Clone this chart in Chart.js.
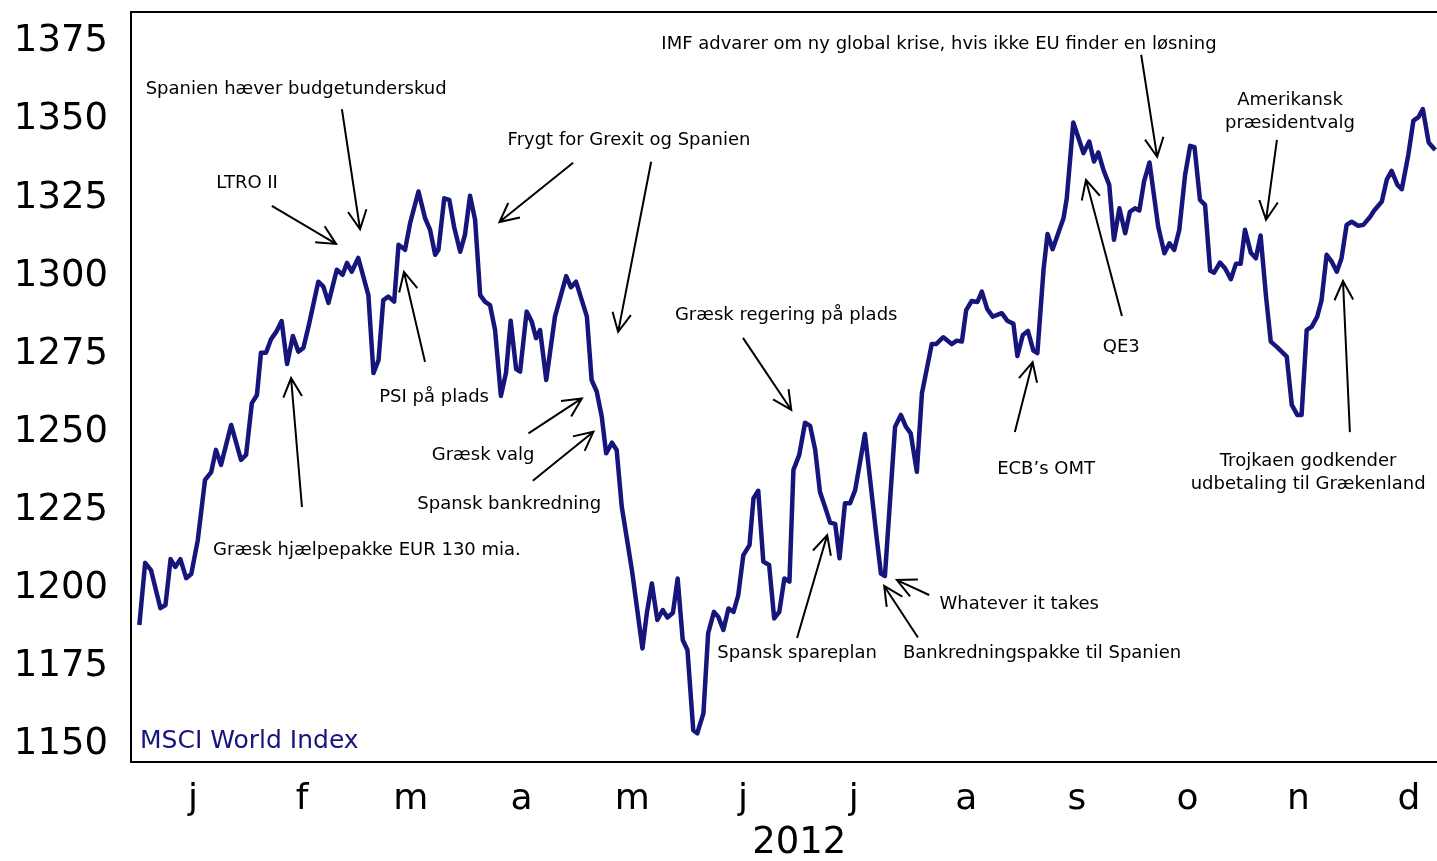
<!DOCTYPE html>
<html>
<head>
<meta charset="utf-8">
<title>MSCI World Index 2012</title>
<script src="https://cdn.jsdelivr.net/npm/chart.js@4.4.1/dist/chart.umd.min.js"></script>
<style>
  html, body { margin: 0; padding: 0; background: #ffffff; }
  #wrap { width: 1437px; height: 861px; }
</style>
</head>
<body>
<div id="wrap"><canvas id="msciChart"></canvas></div>
<script>
// day of year 2012 (0 = 1 Jan) for each reading
const tradingDays = [
  0.7, 2.3, 3.9, 6.5, 7.9, 9.3, 10.6, 12.0, 13.6, 15.0,
  16.8, 18.8, 20.5, 21.8, 23.2, 26.0, 28.7, 30.1, 31.7, 33.1,
  34.2, 35.6, 37.0, 38.4, 39.9, 41.4, 43.0, 44.5, 45.9, 47.3,
  50.0, 51.4, 52.8, 55.1, 56.7, 57.9, 59.2, 61.0, 63.8, 65.2,
  66.6, 67.9, 69.3, 70.9, 72.1, 73.9, 75.3, 77.6, 79.4, 80.8,
  82.2, 83.1, 84.7, 86.1, 87.4, 89.1, 90.4, 91.8, 93.2, 94.6,
  95.9, 97.3, 98.7, 100.3, 101.7, 103.0, 104.5, 105.6, 107.4, 108.8,
  110.0, 111.1, 112.8, 115.2, 118.3, 119.6, 121.0, 124.0, 125.3, 126.7,
  128.1, 129.3, 130.9, 132.2, 133.6, 136.4, 139.3, 140.5, 141.9, 143.4,
  144.9, 146.2, 147.7, 149.0, 150.4, 151.7, 153.3, 154.4, 156.1, 157.4,
  159.0, 160.2, 161.6, 163.0, 164.4, 165.7, 167.1, 168.8, 169.9, 171.2,
  172.6, 174.2, 175.6, 177.0, 178.4, 179.8, 180.9, 182.5, 184.1, 185.5,
  186.9, 188.2, 189.9, 191.0, 192.4, 193.6, 195.1, 196.5, 197.9, 200.6,
  203.9, 205.0, 206.1, 208.9, 210.5, 211.9, 213.2, 214.9, 216.3, 219.0,
  220.2, 222.2, 224.5, 225.9, 227.3, 228.5, 230.0, 231.6, 232.8, 234.3,
  235.8, 238.3, 239.8, 241.5, 242.6, 244.1, 245.5, 247.0, 248.1, 249.8,
  250.9, 252.3, 255.3, 256.2, 258.0, 260.8, 262.4, 263.7, 264.9, 266.3,
  267.9, 269.2, 270.7, 272.3, 273.6, 275.0, 276.2, 277.5, 279.0, 281.4,
  283.1, 284.5, 285.8, 287.2, 288.8, 290.2, 291.4, 292.9, 294.3, 295.7,
  296.8, 298.4, 299.8, 301.4, 302.8, 304.1, 305.3, 306.9, 308.3, 309.6,
  311.1, 312.4, 314.0, 316.8, 318.2, 319.7, 320.9, 322.3, 323.7, 325.2,
  326.4, 327.8, 329.2, 330.6, 331.9, 333.3, 334.7, 336.5, 337.9, 339.8,
  340.9, 343.0, 344.4, 345.7, 347.3, 348.5, 350.3, 351.7, 353.1, 354.3,
  355.9, 357.7
];

const indexValues = [
  1187.2, 1207.1, 1204.8, 1192.6, 1193.6, 1208.3, 1205.8, 1208.3, 1202.2, 1203.5,
  1214.4, 1233.7, 1236.2, 1243.3, 1238.5, 1251.3, 1240.1, 1241.7, 1258.3, 1260.9,
  1274.4, 1274.4, 1278.8, 1281.1, 1284.6, 1270.8, 1279.8, 1274.8, 1276.0, 1282.8,
  1297.2, 1295.6, 1290.4, 1301.0, 1299.4, 1303.2, 1300.4, 1304.8, 1292.9, 1267.9,
  1272.1, 1291.3, 1292.4, 1290.8, 1309.0, 1307.4, 1316.0, 1326.1, 1317.6, 1313.8,
  1305.8, 1307.4, 1323.9, 1323.4, 1314.8, 1306.8, 1312.2, 1324.7, 1317.0, 1292.9,
  1290.8, 1289.7, 1281.7, 1260.6, 1267.9, 1284.7, 1269.2, 1268.4, 1287.6, 1284.4,
  1279.1, 1281.7, 1265.7, 1286.0, 1299.0, 1295.4, 1297.2, 1286.0, 1265.7, 1262.0,
  1253.9, 1242.2, 1245.6, 1243.3, 1225.1, 1204.8, 1179.7, 1190.9, 1200.5, 1188.8,
  1192.0, 1189.6, 1191.1, 1202.1, 1182.4, 1179.2, 1153.5, 1152.5, 1158.9, 1184.5,
  1191.4, 1189.8, 1185.6, 1192.5, 1191.4, 1196.8, 1209.6, 1212.8, 1227.8, 1230.2,
  1207.5, 1206.4, 1189.3, 1191.4, 1202.1, 1201.1, 1236.9, 1241.7, 1252.0, 1251.0,
  1243.3, 1229.9, 1224.0, 1220.0, 1219.6, 1208.6, 1226.2, 1226.2, 1230.4, 1248.4,
  1214.4, 1203.7, 1202.9, 1250.7, 1254.5, 1250.7, 1248.6, 1236.3, 1261.4, 1277.2,
  1277.2, 1279.4, 1277.2, 1278.3, 1278.0, 1288.1, 1291.0, 1290.7, 1294.0, 1288.4,
  1286.0, 1287.1, 1284.7, 1283.7, 1273.4, 1280.1, 1281.4, 1275.1, 1274.3, 1301.0,
  1312.5, 1307.6, 1317.5, 1323.9, 1348.2, 1338.4, 1342.1, 1335.7, 1338.6, 1333.0,
  1328.2, 1310.6, 1320.7, 1312.7, 1319.6, 1320.7, 1320.0, 1329.3, 1335.4, 1314.8,
  1306.3, 1309.5, 1307.4, 1313.8, 1331.4, 1340.7, 1340.3, 1323.4, 1321.8, 1300.7,
  1300.1, 1303.3, 1301.5, 1298.0, 1302.9, 1302.9, 1313.8, 1306.5, 1304.7, 1312.0,
  1292.4, 1278.0, 1276.4, 1273.2, 1257.7, 1254.5, 1254.5, 1281.7, 1282.8, 1286.0,
  1291.3, 1305.8, 1303.6, 1300.4, 1304.7, 1315.4, 1316.4, 1315.1, 1315.4, 1318.0,
  1320.0, 1322.9, 1330.0, 1332.7, 1328.2, 1326.8, 1337.8, 1348.8, 1349.9, 1352.5,
  1341.8, 1339.4
];

const monthMidDays = [15.5, 45.5, 75.5, 106, 136.5, 167, 197.5, 228.5, 259, 289.5, 320, 350.5];
const monthLabels = ["j", "f", "m", "a", "m", "j", "j", "a", "s", "o", "n", "d"];
const yTickValues = [1150, 1175, 1200, 1225, 1250, 1275, 1300, 1325, 1350, 1375];
const yearLabel = "2012";
const yearMidDay = 182.5;
const seriesLabel = "MSCI World Index";

// event notes, placed in data units: label centre [day, value], arrows [fromDay, fromValue, toDay, toValue]
const eventNotes = [
  { lines: ["Spanien hæver budgetunderskud"], at: [43.9, 1359.6], arrows: [[56.5, 1352.5, 61.5, 1314.0]] },
  { lines: ["LTRO II"], at: [30.4, 1329.5], arrows: [[37.2, 1321.5, 54.9, 1309.3]] },
  { lines: ["Frygt for Grexit og Spanien"], at: [135.6, 1343.0], arrows: [[120.2, 1335.3, 99.9, 1316.3], [141.7, 1335.6, 132.6, 1281.1]] },
  { lines: ["PSI på plads"], at: [81.9, 1260.9], arrows: [[79.4, 1271.5, 73.6, 1300.3]] },
  { lines: ["Græsk valg"], at: [95.4, 1242.3], arrows: [[107.9, 1248.6, 122.6, 1259.8]] },
  { lines: ["Spansk bankredning"], at: [102.6, 1226.6], arrows: [[109.1, 1233.4, 125.8, 1249.1]] },
  { lines: ["Græsk hjælpepakke EUR 130 mia."], at: [63.4, 1211.9], arrows: [[45.5, 1225.0, 42.5, 1266.3]] },
  { lines: ["Græsk regering på plads"], at: [178.9, 1286.9], arrows: [[167.0, 1279.2, 180.3, 1256.1]] },
  { lines: ["Spansk spareplan"], at: [181.9, 1178.8], arrows: [[181.9, 1183.0, 190.2, 1216.0]] },
  { lines: ["Whatever it takes"], at: [243.1, 1194.6], arrows: [[218.3, 1196.8, 209.4, 1201.6]] },
  { lines: ["Bankredningspakke til Spanien"], at: [249.4, 1178.8], arrows: [[215.2, 1183.2, 205.9, 1199.7]] },
  { lines: ["ECB’s OMT"], at: [250.5, 1237.8], arrows: [[241.9, 1249.0, 246.8, 1271.4]] },
  { lines: ["IMF advarer om ny global krise, hvis ikke EU finder en løsning"], at: [221.0, 1374.0], arrows: [[276.7, 1369.9, 281.1, 1337.2]] },
  { lines: ["QE3"], at: [271.2, 1276.9], arrows: [[271.4, 1286.2, 261.5, 1329.8]] },
  { lines: ["Amerikansk", "præsidentvalg"], at: [317.7, 1352.1], arrows: [[314.1, 1342.6, 311.1, 1317.0]] },
  { lines: ["Trojkaen godkender", "udbetaling til Grækenland"], at: [322.7, 1236.7], arrows: [[334.2, 1249.0, 332.3, 1297.4]] }
];

const LINE_COLOR = "#15157c";
const FONT = "'DejaVu Sans', Verdana, sans-serif";

function drawArrow(ctx, x1, y1, x2, y2) {
  const angle = Math.atan2(y2 - y1, x2 - x1);
  const head = 21;
  const spread = 0.46;

  ctx.beginPath();
  ctx.moveTo(x1, y1);
  ctx.lineTo(x2, y2);
  ctx.moveTo(x2 - head * Math.cos(angle - spread), y2 - head * Math.sin(angle - spread));
  ctx.lineTo(x2, y2);
  ctx.lineTo(x2 - head * Math.cos(angle + spread), y2 - head * Math.sin(angle + spread));
  ctx.stroke();
}

const framePlugin = {
  id: "frame",
  afterDraw: function (chart) {
    const ctx = chart.ctx;
    const area = chart.chartArea;

    ctx.save();
    ctx.strokeStyle = "#000000";
    ctx.lineWidth = 2;
    ctx.beginPath();
    ctx.moveTo(area.right, area.top);
    ctx.lineTo(area.left, area.top);
    ctx.lineTo(area.left, area.bottom);
    ctx.lineTo(area.right, area.bottom);
    ctx.stroke();

    ctx.fillStyle = LINE_COLOR;
    ctx.font = "25px " + FONT;
    ctx.textAlign = "left";
    ctx.textBaseline = "middle";
    ctx.fillText(seriesLabel, area.left + 9, area.bottom - 21);

    // year label, centred on the full calendar year (the axis is cut before 31 Dec)
    ctx.fillStyle = "#000000";
    ctx.font = "37px " + FONT;
    ctx.textAlign = "center";
    ctx.fillText(yearLabel, chart.scales.x.getPixelForValue(yearMidDay), 843);
    ctx.restore();
  }
};

const notesPlugin = {
  id: "eventNotes",
  afterDatasetsDraw: function (chart) {
    const ctx = chart.ctx;
    const xScale = chart.scales.x;
    const yScale = chart.scales.y;

    ctx.save();
    ctx.strokeStyle = "#000000";
    ctx.fillStyle = "#000000";
    ctx.lineWidth = 2;
    ctx.font = "18px " + FONT;
    ctx.textAlign = "center";
    ctx.textBaseline = "middle";

    eventNotes.forEach(function (note) {
      const cx = xScale.getPixelForValue(note.at[0]);
      const cy = yScale.getPixelForValue(note.at[1]) + 2;
      const lineGap = 23;
      const firstY = cy - (note.lines.length - 1) * lineGap / 2;

      note.lines.forEach(function (line, i) {
        ctx.fillText(line, cx, firstY + i * lineGap);
      });

      note.arrows.forEach(function (a) {
        drawArrow(ctx,
          xScale.getPixelForValue(a[0]), yScale.getPixelForValue(a[1]),
          xScale.getPixelForValue(a[2]), yScale.getPixelForValue(a[3]));
      });
    });

    ctx.restore();
  }
};

const points = tradingDays.map(function (day, i) {
  return { x: day, y: indexValues[i] };
});

new Chart(document.getElementById("msciChart"), {
  type: "line",
  data: {
    datasets: [{
      label: seriesLabel,
      data: points,
      borderColor: LINE_COLOR,
      backgroundColor: LINE_COLOR,
      borderWidth: 4.5,
      borderJoinStyle: "round",
      pointRadius: 0,
      tension: 0,
      fill: false
    }]
  },
  options: {
    responsive: true,
    maintainAspectRatio: false,
    animation: false,
    events: [],
    layout: {
      padding: { top: 12, right: 0, bottom: 0, left: 0 }
    },
    plugins: {
      legend: { display: false },
      tooltip: { enabled: false }
    },
    scales: {
      x: {
        type: "linear",
        min: -1.6,
        max: 358.2,
        grid: { display: false, drawTicks: false },
        border: { display: false },
        afterBuildTicks: function (scale) {
          scale.ticks = monthMidDays.map(function (d) {
            return { value: d };
          });
        },
        afterFit: function (scale) {
          scale.height = 99;
          scale.paddingLeft = 0;
          scale.paddingRight = 0;
        },
        ticks: {
          autoSkip: false,
          maxRotation: 0,
          padding: 16,
          color: "#000000",
          font: { family: FONT, size: 36 },
          callback: function (value, index) {
            return monthLabels[index];
          }
        }
      },
      y: {
        min: 1143.3,
        max: 1383.6,
        grid: { display: false, drawTicks: false },
        border: { display: false },
        afterBuildTicks: function (scale) {
          scale.ticks = yTickValues.map(function (v) {
            return { value: v };
          });
        },
        afterFit: function (scale) {
          scale.width = 131;
          scale.paddingTop = 0;
          scale.paddingBottom = 0;
        },
        ticks: {
          padding: 23,
          labelOffset: 3,
          color: "#000000",
          font: { family: FONT, size: 37 },
          callback: function (value) {
            return String(value);
          }
        }
      }
    }
  },
  plugins: [framePlugin, notesPlugin]
});
</script>
</body>
</html>
